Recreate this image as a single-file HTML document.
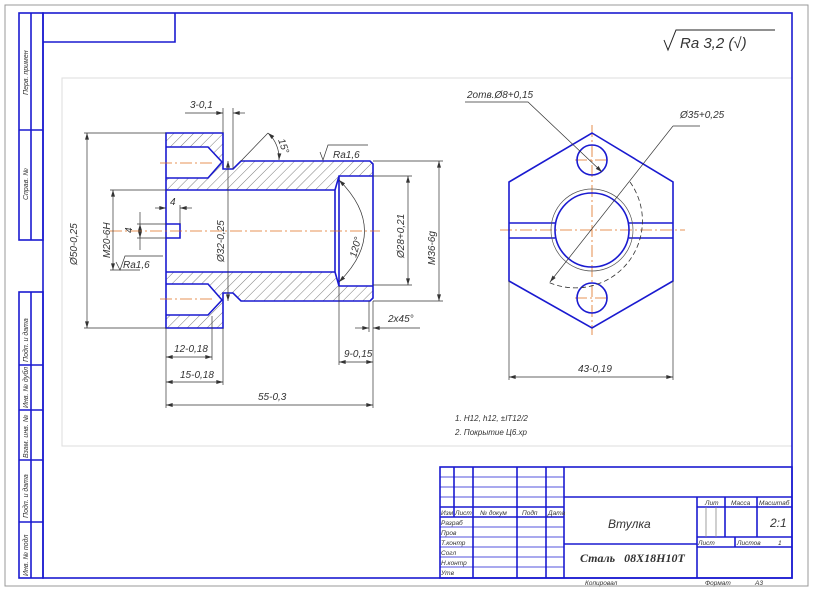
<!DOCTYPE html>
<html><head><meta charset="utf-8"><style>
html,body{margin:0;padding:0;background:#fff}
svg{display:block}
text{font-family:"Liberation Sans","DejaVu Sans",sans-serif;font-style:italic;fill:#333}
</style></head><body>
<svg width="816" height="595" viewBox="0 0 816 595" xmlns="http://www.w3.org/2000/svg">
<defs>
<pattern id="h" width="7" height="7" patternUnits="userSpaceOnUse" patternTransform="rotate(45)">
<line x1="0" y1="0" x2="0" y2="7" stroke="#444" stroke-width="0.7"/>
</pattern>
<marker id="a" viewBox="0 0 10 6" refX="10" refY="3" markerWidth="7" markerHeight="4" orient="auto-start-reverse" markerUnits="userSpaceOnUse">
<path d="M0,0 L10,3 L0,6 Z" fill="#333"/>
</marker>
</defs>
<rect x="5" y="5" width="803" height="581" fill="none" stroke="#999" stroke-width="1"/>
<rect x="62" y="78" width="730" height="368" fill="none" stroke="#ddd" stroke-width="1"/>
<g stroke="#1a1ad0" stroke-width="1.6" fill="none">
<rect x="43" y="13" width="749" height="565"/>
<polyline points="43,42 175,42 175,13"/>
<rect x="19" y="13" width="24" height="227"/>
<line x1="31" y1="13" x2="31" y2="240"/>
<line x1="19" y1="130" x2="43" y2="130"/>
<rect x="19" y="292" width="24" height="286"/>
<line x1="31" y1="292" x2="31" y2="578"/>
<line x1="19" y1="365" x2="43" y2="365"/>
<line x1="19" y1="410" x2="43" y2="410"/>
<line x1="19" y1="460" x2="43" y2="460"/>
<line x1="19" y1="522" x2="43" y2="522"/>
<rect x="440" y="467" width="352" height="111"/>
<line x1="564" y1="467" x2="564" y2="578"/>
<line x1="564" y1="497" x2="792" y2="497"/>
<line x1="564" y1="544" x2="697" y2="544"/>
<line x1="697" y1="497" x2="697" y2="578"/>
<line x1="697" y1="507" x2="792" y2="507"/>
<line x1="697" y1="537" x2="792" y2="537"/>
<line x1="697" y1="547" x2="792" y2="547"/>
<line x1="725" y1="497" x2="725" y2="537"/>
<line x1="757" y1="497" x2="757" y2="537"/>
<line x1="735" y1="537" x2="735" y2="547"/>
<line x1="440" y1="507" x2="564" y2="507"/>
<line x1="440" y1="517" x2="564" y2="517"/>
<line x1="473" y1="467" x2="473" y2="578"/>
<line x1="517" y1="467" x2="517" y2="578"/>
<line x1="546" y1="467" x2="546" y2="578"/>
<line x1="454" y1="467" x2="454" y2="517"/>
</g>
<g stroke="#1a1ad0" stroke-width="0.7">
<line x1="440" y1="477" x2="564" y2="477"/><line x1="440" y1="487" x2="564" y2="487"/><line x1="440" y1="497" x2="564" y2="497"/>
<line x1="440" y1="527" x2="564" y2="527"/><line x1="440" y1="537" x2="564" y2="537"/><line x1="440" y1="547" x2="564" y2="547"/><line x1="440" y1="557" x2="564" y2="557"/><line x1="440" y1="567" x2="564" y2="567"/>
</g>
<g stroke="#888" stroke-width="0.8"><line x1="706" y1="507" x2="706" y2="537"/><line x1="716" y1="507" x2="716" y2="537"/></g>
<g font-size="6.5">
<text x="441" y="515">Изм</text><text x="455" y="515">Лист</text><text x="480" y="515">№ докум</text><text x="522" y="515">Подп</text><text x="548" y="515">Дата</text>
<text x="441" y="525">Разраб</text><text x="441" y="535">Пров</text><text x="441" y="545">Т.контр</text><text x="441" y="555">Согл</text><text x="441" y="565">Н.контр</text><text x="441" y="575">Утв</text>
<text x="705" y="505">Лит</text><text x="731" y="505">Масса</text><text x="759" y="505">Масштаб</text>
<text x="698" y="545">Лист</text><text x="737" y="545">Листов</text><text x="778" y="545">1</text>
<text x="585" y="585">Копировал</text><text x="705" y="585">Формат</text><text x="755" y="585">А3</text>
</g>
<text x="608" y="528" font-size="12">Втулка</text>
<text x="770" y="527" font-size="12">2:1</text>
<text x="580" y="562" font-size="12" style="font-family:'Liberation Serif',serif;font-weight:bold" fill="#222">Сталь &#160;&#160;08Х18Н10Т</text>
<g font-size="7">
<text transform="translate(28,95) rotate(-90)">Перв. примен</text>
<text transform="translate(28,200) rotate(-90)">Справ. №</text>
<text transform="translate(28,362) rotate(-90)">Подп. и дата</text>
<text transform="translate(28,408) rotate(-90)">Инв. № дубл</text>
<text transform="translate(28,458) rotate(-90)">Взам. инв. №</text>
<text transform="translate(28,518) rotate(-90)">Подп. и дата</text>
<text transform="translate(28,576) rotate(-90)">Инв. № подл</text>
</g>
<polyline points="664,40 668,50 676,30 775,30" fill="none" stroke="#222" stroke-width="1"/>
<text x="680" y="48" font-size="15">Ra 3,2 (√)</text>

<path d="M166,133 L223,133 L223,169 L233,169 L241,161 L370,161 L373,164 L373,176 L339,176 L335,190 L166,190 Z M166,147 L208,147 L222,162 L208,178 L166,178 Z" fill="url(#h)" fill-rule="evenodd"/>
<path d="M166,328 L223,328 L223,293 L233,293 L241,301 L370,301 L373,298 L373,286 L339,286 L335,272 L166,272 Z M166,315 L208,315 L222,300 L208,284 L166,284 Z" fill="url(#h)" fill-rule="evenodd"/>
<g stroke="#1a1ad0" stroke-width="1.6" fill="none">
<path d="M166,133 L223,133 L223,169 L233,169 L241,161 L370,161 L373,164 L373,298 L370,301 L241,301 L233,293 L223,293 L223,328 L166,328 Z"/>
<path d="M166,147 L208,147 L222,162 L208,178 L166,178"/>
<path d="M166,315 L208,315 L222,300 L208,284 L166,284"/>
<line x1="166" y1="190" x2="335" y2="190"/><line x1="166" y1="272" x2="335" y2="272"/>
<path d="M335,190 L339,176 L373,176 M335,272 L339,286 L373,286 M339,176 L339,286 M335,190 L335,272"/>
<path d="M166,224 L180,224 L180,238 L166,238"/>
</g>
<g stroke="#e07020" stroke-width="0.8" stroke-dasharray="12,3,2,3">
<line x1="110" y1="231" x2="380" y2="231"/>
<line x1="160" y1="163" x2="215" y2="163"/><line x1="160" y1="299" x2="215" y2="299"/>
<line x1="500" y1="230" x2="685" y2="230"/>
<line x1="592" y1="125" x2="592" y2="335"/>
<line x1="575" y1="160" x2="609" y2="160"/><line x1="575" y1="298" x2="609" y2="298"/>
</g>
<g stroke="#333" stroke-width="0.7" fill="none">
<line x1="84" y1="133" x2="166" y2="133"/><line x1="84" y1="328" x2="166" y2="328"/>
<line x1="110" y1="190" x2="166" y2="190"/><line x1="110" y1="270" x2="140" y2="270"/>
<line x1="373" y1="161" x2="443" y2="161"/><line x1="373" y1="301" x2="443" y2="301"/>
<line x1="373" y1="176" x2="412" y2="176"/><line x1="373" y1="285" x2="412" y2="285"/>
<line x1="166" y1="328" x2="166" y2="408"/><line x1="212" y1="316" x2="212" y2="360"/><line x1="223" y1="328" x2="223" y2="385"/>
<line x1="373" y1="301" x2="373" y2="408"/><line x1="339" y1="286" x2="339" y2="365"/>
<line x1="369" y1="301" x2="369" y2="332"/>
<line x1="223" y1="108" x2="223" y2="133"/><line x1="233" y1="108" x2="233" y2="169"/>
<line x1="241" y1="161" x2="268" y2="133"/>
<line x1="180" y1="205" x2="180" y2="224"/>
<line x1="137" y1="224" x2="166" y2="224"/><line x1="137" y1="238" x2="166" y2="238"/>
<polyline points="320,152 323,160 328,145 368,145"/>
<polyline points="116,262 120,270 125,256 163,256"/>
</g>
<g stroke="#333" stroke-width="0.7" fill="none" marker-start="url(#a)" marker-end="url(#a)">
<line x1="87" y1="133" x2="87" y2="328"/>
<line x1="113" y1="190" x2="113" y2="270"/>
<line x1="228" y1="161" x2="228" y2="301"/>
<line x1="439" y1="161" x2="439" y2="301"/>
<line x1="408" y1="176" x2="408" y2="285"/>
<line x1="166" y1="357" x2="212" y2="357"/><line x1="166" y1="382" x2="223" y2="382"/><line x1="166" y1="405" x2="373" y2="405"/>
<line x1="339" y1="362" x2="373" y2="362"/>
<path d="M339,180 Q390,231 339,282"/>
<path d="M268,133 A34,34 0 0 1 279,160"/>
<line x1="140" y1="224" x2="140" y2="238"/>
<line x1="509" y1="377" x2="673" y2="377"/>
</g>
<g stroke="#333" stroke-width="0.7" fill="none">
<line x1="245" y1="113" x2="233" y2="113" marker-end="url(#a)"/><line x1="185" y1="113" x2="223" y2="113" marker-end="url(#a)"/>
<line x1="420" y1="328" x2="373" y2="328" marker-end="url(#a)"/><line x1="355" y1="328" x2="369" y2="328" marker-end="url(#a)"/>
<line x1="155" y1="208" x2="166" y2="208" marker-end="url(#a)"/><line x1="192" y1="208" x2="180" y2="208" marker-end="url(#a)"/>
<line x1="140" y1="212" x2="140" y2="224"/><line x1="140" y1="238" x2="140" y2="250"/>
</g>
<g font-size="10">
<text transform="translate(77,265) rotate(-90)">Ø50-0,25</text>
<text transform="translate(110,258) rotate(-90)">M20-6H</text>
<text transform="translate(224,262) rotate(-90)">Ø32-0,25</text>
<text transform="translate(404,258) rotate(-90)">Ø28+0,21</text>
<text transform="translate(435,265) rotate(-90)">M36-6g</text>
<text transform="translate(356,258) rotate(-75)">120°</text>
<text transform="translate(278,140) rotate(70)">15°</text>
<text x="190" y="108">3-0,1</text>
<text x="333" y="158">Ra1,6</text>
<text x="123" y="268">Ra1,6</text>
<text x="170" y="205">4</text>
<text transform="translate(132,233) rotate(-90)">4</text>
<text x="174" y="352">12-0,18</text>
<text x="180" y="378">15-0,18</text>
<text x="258" y="400">55-0,3</text>
<text x="344" y="357">9-0,15</text>
<text x="388" y="322">2x45°</text>
<text x="467" y="98">2отв.Ø8+0,15</text>
<text x="680" y="118">Ø35+0,25</text>
<text x="578" y="372">43-0,19</text>
</g>
<text x="455" y="421" font-size="8">1. H12, h12, ±IT12/2</text>
<text x="455" y="435" font-size="8">2. Покрытие Ц6.хр</text>
<g stroke="#1a1ad0" stroke-width="1.6" fill="none">
<polygon points="592,133 673,182 673,281 592,328 509,281 509,182"/>
<circle cx="592" cy="160" r="15"/><circle cx="592" cy="298" r="15"/>
<circle cx="592" cy="230" r="37"/>
<line x1="509" y1="223" x2="555" y2="223"/><line x1="509" y1="238" x2="555" y2="238"/>
<line x1="629" y1="223" x2="673" y2="223"/><line x1="629" y1="238" x2="673" y2="238"/>
</g>
<circle cx="592" cy="230" r="41" fill="none" stroke="#555" stroke-width="0.7"/>
<path d="M630,182 A67,67 0 0 1 548,282" fill="none" stroke="#333" stroke-width="0.8" stroke-dasharray="5,3"/>
<g stroke="#333" stroke-width="0.7" fill="none">
<polyline points="673,126 550,282" marker-end="url(#a)"/><line x1="673" y1="126" x2="700" y2="126"/>
<polyline points="465,102 528,102 602,172" marker-end="url(#a)"/>
<line x1="509" y1="281" x2="509" y2="380"/><line x1="673" y1="281" x2="673" y2="380"/>
</g>
</svg>
</body></html>
